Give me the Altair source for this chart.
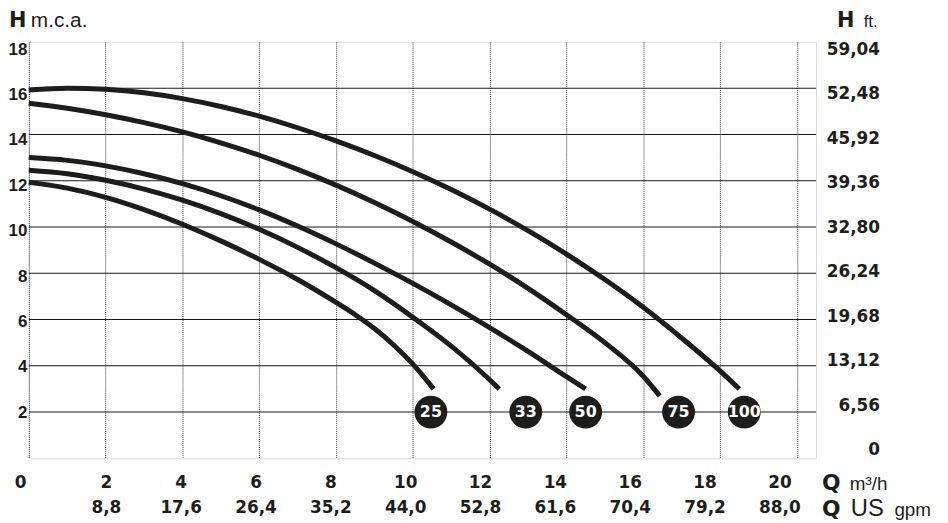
import altair as alt
import pandas as pd

# ---------------- data ----------------
pumps = ["100", "75", "50", "33", "25"]

q_100 = [0, 1, 2, 3, 4, 5, 6, 7, 8, 9, 10, 11, 12, 13, 14, 15, 16, 17, 18, 18.5]
h_100 = [15.92, 16.0, 15.95, 15.8, 15.55, 15.21, 14.79, 14.29, 13.72, 13.09, 12.39, 11.62, 10.77, 9.84, 8.83, 7.73, 6.53, 5.2, 3.78, 3.0]

q_75 = [0, 1, 2, 3, 4, 5, 6, 7, 8, 9, 10, 11, 12, 13, 14, 15, 16, 16.43]
h_75 = [15.35, 15.13, 14.85, 14.51, 14.11, 13.64, 13.1, 12.49, 11.81, 11.06, 10.24, 9.35, 8.39, 7.35, 6.21, 5.0, 3.55, 2.7]

q_50 = [0, 1, 2, 3, 4, 5, 6, 7, 8, 9, 10, 11, 12, 13, 14, 14.5]
h_50 = [13.0, 12.88, 12.64, 12.3, 11.87, 11.35, 10.74, 10.04, 9.27, 8.44, 7.56, 6.63, 5.65, 4.62, 3.53, 3.0]

q_33 = [0, 1, 2, 3, 4, 5, 6, 7, 8, 9, 10, 11, 12, 12.25]
h_33 = [12.45, 12.3, 12.02, 11.64, 11.16, 10.58, 9.9, 9.12, 8.24, 7.25, 6.1, 4.85, 3.4, 3.0]

q_25 = [0, 1, 2, 3, 4, 5, 6, 7, 8, 8.5, 9, 9.5, 10, 10.54]
h_25 = [11.93, 11.68, 11.28, 10.75, 10.12, 9.4, 8.6, 7.73, 6.74, 6.21, 5.61, 4.9, 4.07, 3.0]

badge_text = ["25", "33", "50", "75", "100"]
badge_q = [10.47, 12.94, 14.50, 16.92, 18.63]
badge_h = [2, 2, 2, 2, 2]

h_ticks = [2, 4, 6, 8, 10, 12, 14, 16, 18]
ft_ticks = [0, 6.56, 13.12, 19.68, 26.24, 32.80, 39.36, 45.92, 52.48, 59.04]
q_ticks = [0, 2, 4, 6, 8, 10, 12, 14, 16, 18, 20]
gpm_ticks = [8.8, 17.6, 26.4, 35.2, 44.0, 52.8, 61.6, 70.4, 79.2, 88.0]
solid_h = [2, 4, 6, 8, 10, 12, 14, 16]

# ---------------- tables ----------------
series = {"100": (q_100, h_100), "75": (q_75, h_75), "50": (q_50, h_50),
          "33": (q_33, h_33), "25": (q_25, h_25)}
rows = []
for p in pumps:
    for i, (q, h) in enumerate(zip(*series[p])):
        rows.append({"pump": p, "q": q, "h": h, "i": i})
curves_df = pd.DataFrame(rows)
badges_df = pd.DataFrame({"t": badge_text, "q": badge_q, "h": badge_h})
solid_df = pd.DataFrame({"h": solid_h})

INK = "#1d1d1b"
BOLD = "DejaVu Sans"
ARIAL = "Liberation Sans"
GRID = "#333333"

x_grid_vals = [i * 0.5 for i in range(42)]
y_grid_vals = list(range(19))

xs = alt.Scale(domain=[0, 20.5], nice=False, zero=False)
ys = alt.Scale(domain=[0, 18], nice=False, zero=False)

x_enc = alt.X("q:Q", scale=xs, axis=alt.Axis(values=x_grid_vals, grid=True, labels=False, ticks=False,
                                             domain=False, title=None, gridDash=[1, 1],
                                             gridColor=GRID, gridWidth=1))
y_enc = alt.Y("h:Q", scale=ys, axis=alt.Axis(values=y_grid_vals, grid=True, labels=False, ticks=False,
                                             domain=False, title=None, gridDash=[1, 1],
                                             gridColor=GRID, gridWidth=1))

solid = alt.Chart(solid_df).mark_rule(color="#1a1a1a", strokeWidth=1.1).encode(
    y=alt.Y("h:Q", scale=ys, axis=None))

lines = alt.Chart(curves_df).mark_line(color=INK, strokeWidth=5, interpolate="monotone").encode(
    x=x_enc, y=y_enc, detail="pump:N", order="i:Q")

circles = alt.Chart(badges_df).mark_circle(size=1100, color=INK, opacity=1).encode(
    x=alt.X("q:Q", scale=xs), y=alt.Y("h:Q", scale=ys))

badge_labels = alt.Chart(badges_df).mark_text(color="white", font=BOLD, fontWeight="bold", fontSize=16,
                                             baseline="middle", align="center").encode(
    x=alt.X("q:Q", scale=xs), y=alt.Y("h:Q", scale=ys), text="t:N")

core = alt.layer(solid, lines, circles, badge_labels)

# ---------------- label axes ----------------
left_df = pd.DataFrame({"v": h_ticks})
left_axis = alt.Chart(left_df).mark_point(opacity=0).encode(
    y=alt.Y("v:Q", scale=alt.Scale(domain=[-0.03, 18.32], nice=False, zero=False),
            axis=alt.Axis(orient="left", values=h_ticks, grid=False, ticks=False, tickSize=0, domain=False,
                          title=None, labelFont=ARIAL, labelFontWeight="bold", labelFontSize=17,
                          labelColor=INK, labelPadding=2)))

right_df = pd.DataFrame({"v": ft_ticks})
right_axis = alt.Chart(right_df).mark_point(opacity=0).encode(
    y=alt.Y("v:Q", scale=alt.Scale(domain=[-1.24, 60.11], nice=False, zero=False),
            axis=alt.Axis(orient="right", values=ft_ticks, grid=False, ticks=False, tickSize=0, domain=False,
                          title=None, labelFont=BOLD, labelFontWeight="bold", labelFontSize=17,
                          labelColor=INK, labelPadding=64, labelAlign="right",
                          labelExpr="datum.value === 0 ? '0' : replace(format(datum.value, '.2f'), '.', ',')")))

q_df = pd.DataFrame({"v": q_ticks})
q_axis = alt.Chart(q_df).mark_point(opacity=0).encode(
    x=alt.X("v:Q", scale=alt.Scale(domain=[-0.058, 20.98], nice=False, zero=False),
            axis=alt.Axis(orient="bottom", values=q_ticks, grid=False, ticks=False, tickSize=0, domain=False,
                          title=None, labelFont=BOLD, labelFontWeight="bold", labelFontSize=17,
                          labelColor=INK, labelPadding=16, labelFlush=False,
                          labelOffset={"condition": {"test": "datum.value === 0", "value": -11}, "value": 0})))

gpm_df = pd.DataFrame({"v": gpm_ticks})
gpm_axis = alt.Chart(gpm_df).mark_point(opacity=0).encode(
    x=alt.X("v:Q", scale=alt.Scale(domain=[-0.255, 92.31], nice=False, zero=False),
            axis=alt.Axis(orient="bottom", values=gpm_ticks, grid=False, ticks=False, tickSize=0, domain=False,
                          title=None, labelFont=BOLD, labelFontWeight="bold", labelFontSize=17,
                          labelColor=INK, labelPadding=16, offset=26, labelFlush=False,
                          labelExpr="replace(format(datum.value, '.1f'), '.', ',')")))

# ---------------- unit titles ----------------
one = pd.DataFrame({"k": [0]})


def txt(s, x, y, font, size, weight="normal", align="left"):
    return alt.Chart(one).mark_text(text=s, font=font, fontSize=size, fontWeight=weight, color=INK,
                                    align=align, baseline="alphabetic").encode(
        x=alt.value(x), y=alt.value(y))


titles = [
    txt("H", -20, -15, BOLD, 21, "bold"),
    txt("m.c.a.", 2, -15, ARIAL, 21),
    txt("H", 815, -15, BOLD, 21, "bold"),
    txt("ft.", 842, -15, ARIAL, 17),
    txt("Q", 800, 452, BOLD, 22, "bold"),
    txt("m³/h", 828, 452, ARIAL, 19),
    txt("Q", 800, 478, BOLD, 22, "bold"),
    txt("US", 829, 478, ARIAL, 24),
    txt("gpm", 873, 478, ARIAL, 19),
]

chart = alt.layer(core, left_axis, right_axis, q_axis, gpm_axis, *titles).resolve_scale(
    x="independent", y="independent"
).properties(
    width=794, height=420,
    padding={"left": 21, "top": 32, "right": 125, "bottom": 63},
    autosize=alt.AutoSizeParams(type="none"),
).configure_view(stroke=None).configure(background="white")

chart.save("out.html", embed_options={"renderer": "svg", "actions": False})
